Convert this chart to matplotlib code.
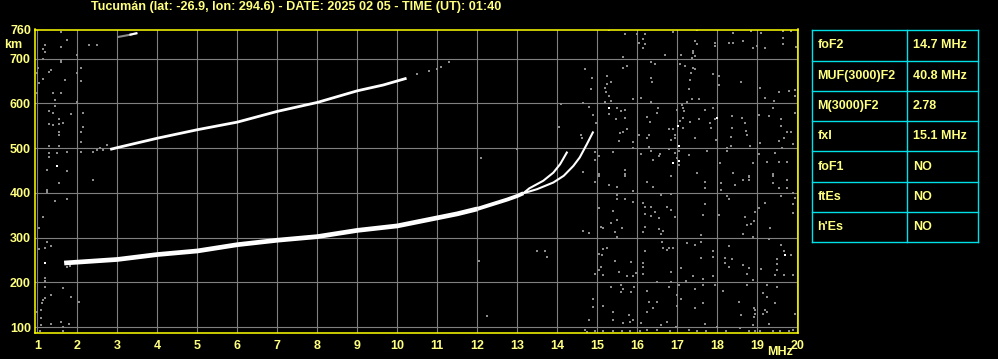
import matplotlib
matplotlib.use("Agg")
import matplotlib.pyplot as plt

# ---------------- data ----------------
title = "Tucumán (lat: -26.9, lon: 294.6) - DATE: 2025 02 05 - TIME (UT): 01:40"

freq_ticks = list(range(1, 21))
height_ticks = [100, 200, 300, 400, 500, 600, 700]

# F2 trace (1st hop), common part
f1_freq = [1.67, 2.0, 3.0, 4.0, 5.0, 6.0, 7.0, 8.0, 9.0, 10.0, 11.0, 11.5, 12.0]
f1_height = [243, 245, 251, 262, 270, 284, 294, 302, 316, 326, 344, 353, 364]
f1b_freq = [12.0, 12.25, 12.5, 12.75, 13.0, 13.15]
f1b_height = [364, 371, 378, 385, 393, 399]
# split branches
oA_freq = [13.15, 13.3, 13.65, 13.9, 14.07, 14.25]
oA_height = [399, 410, 427, 445, 464, 492]
xB_freq = [13.15, 13.49, 13.9, 14.16, 14.4, 14.56, 14.74, 14.9]
xB_height = [399, 408, 423, 438, 460, 479, 509, 537]

# 2nd hop trace
f2_freq = [2.82, 3.0, 4.0, 5.0, 6.0, 7.0, 8.0, 9.0, 9.65, 10.23]
f2_height = [497, 501, 522, 541, 558, 582, 602, 628, 641, 656]
f2_gray_freq = [2.40, 2.48, 2.57, 2.65, 2.73, 10.5, 10.8, 10.99, 11.1, 11.3]
f2_gray_height = [492, 496, 500, 496, 507, 665, 672, 677, 681, 692]

# 3rd hop fragment
f3_freq = [3.0, 3.3, 3.5]
f3_height = [748, 753, 757]

# noise echoes (gray)
noise_freq = [
    15.29, 15.70, 16.00, 16.18, 16.15, 16.03, 16.18, 16.14, 16.89, 17.49, 17.45, 17.49, 17.95, 17.95,
    18.39, 18.30, 18.40, 18.64, 18.84, 18.89, 19.00, 19.09, 19.20, 19.64, 19.64, 19.64, 19.84, 19.97,
    17.40, 17.40, 17.45, 17.36, 17.09, 16.70, 15.64, 16.34, 16.45, 15.64, 15.74, 17.07, 17.20, 17.40,
    17.45, 17.35, 17.32, 17.28, 17.36, 17.55, 17.24, 17.11, 17.15, 16.99, 17.17, 14.70, 14.86, 14.85,
    15.24, 15.35, 15.24, 15.18, 15.22, 15.30, 15.35, 15.20, 14.65, 14.80, 15.60, 15.70, 15.49, 15.30,
    15.47, 15.70, 15.90, 16.09, 16.34, 16.36, 16.35, 16.24, 16.32, 16.51, 16.50, 17.70, 17.89, 18.03,
    17.89, 18.03, 18.59, 19.07, 19.20, 19.42, 19.55, 19.78, 19.95, 19.95, 19.95, 19.40, 19.28, 19.05,
    19.60, 19.60, 19.74, 19.84, 19.67, 19.53, 19.61, 19.07, 19.03, 19.43, 19.25, 19.53, 19.74, 19.90,
    18.36, 18.36, 18.35, 18.34, 18.24, 18.61, 18.70, 18.72, 18.74, 18.82, 18.90, 18.24, 18.38, 18.78,
    19.39, 17.82, 17.84, 17.95, 17.97, 18.07, 17.74, 17.55, 17.32, 17.45, 17.30, 17.49, 17.15, 17.07,
    17.15, 16.90, 16.95, 16.93, 16.84, 17.05, 16.95, 16.99, 17.05, 16.80, 16.78, 16.57, 16.53, 16.40,
    16.34, 16.28, 16.10, 16.28, 16.24, 16.03, 15.90, 15.88, 15.74, 15.64, 15.57, 15.55, 15.39, 15.03,
    14.95, 14.95, 14.97, 14.90, 14.65, 15.03, 15.70, 15.70,
    14.95, 15.03, 15.30, 15.49, 15.70, 15.89, 16.24, 16.39, 16.84, 17.70, 17.70, 18.10, 18.10, 18.45,
    18.64, 18.80, 18.78, 19.40, 19.40, 19.55, 19.74, 19.74, 15.49, 15.49, 15.70, 15.89, 15.39, 15.49,
    15.35, 15.61, 15.45, 15.49, 15.10, 15.14, 14.64, 14.78, 15.03, 16.14, 16.20, 16.35, 16.20, 16.34,
    16.45, 16.55, 16.60, 16.75, 16.84, 16.95, 16.85, 16.20, 16.14, 16.53, 16.64, 16.60, 17.70, 17.64,
    17.59, 18.03, 18.24, 18.30, 18.68, 18.74, 18.84, 18.92, 18.95, 18.64, 18.89, 19.03, 19.20, 19.32,
    19.59, 19.90, 19.95, 19.89, 19.90, 16.61, 16.64, 16.75, 16.80, 16.90, 16.20, 16.15, 16.14, 16.14,
    15.85, 15.55, 15.74, 15.90, 15.97, 15.24, 15.14, 15.11, 15.03, 15.45, 15.10, 15.03, 15.14, 14.95,
    16.85, 17.10, 17.24, 17.45, 17.60, 17.60, 17.89, 17.90, 17.89, 17.64, 17.39, 18.20, 18.20, 18.36,
    18.30, 18.30, 18.65, 18.74, 18.75, 18.90, 18.80, 19.10, 19.30, 19.60, 19.67, 19.49, 19.49, 19.49,
    19.84, 19.45, 19.67, 19.90, 19.49, 19.24, 19.14, 19.24, 19.45, 19.18, 19.24, 19.14, 18.93, 18.92,
    18.90, 19.30, 19.95, 16.49, 16.85, 17.03, 17.22, 17.45, 17.64, 17.95, 18.14, 15.35, 15.59, 15.64,
    15.59, 15.85, 15.92, 16.24, 16.80, 14.88, 14.90, 15.14, 15.39, 15.40, 15.65, 15.80, 15.82, 15.90,
    16.09, 16.30, 16.50, 16.39, 16.25, 16.99, 17.09, 17.00, 16.75, 16.60, 16.97, 17.70, 17.64, 17.45,
    18.55, 18.59, 18.92, 18.95, 14.79, 14.70, 14.74, 14.95, 15.14, 15.39, 15.61, 15.82, 16.07, 16.24,
    16.49, 16.82, 17.28, 17.49, 17.72, 18.00, 18.22, 18.57, 18.78, 18.95, 19.07, 19.40, 19.57, 19.78,
    19.90,
    1.58, 1.73, 1.18, 1.13, 1.19, 1.58, 1.13, 1.59, 1.58, 1.98, 2.28, 2.48, 1.01, 1.33, 1.28, 2.08,
    2.09, 1.98, 1.69, 1.13, 1.03, 1.38, 1.59, 1.44, 1.44, 2.00, 1.84, 1.29, 1.38, 2.13, 2.13, 1.29,
    1.40, 1.55, 1.65, 1.55, 1.55, 1.55, 2.09, 2.09, 1.74, 1.30, 1.55, 1.29, 1.29, 1.48, 2.08, 1.23,
    1.75, 1.55, 1.23, 1.23, 2.38, 1.73, 1.43, 1.15, 1.04, 1.23, 1.33, 1.19, 1.03, 1.19, 1.19, 1.19,
    1.65, 1.34, 1.19, 1.13, 1.11, 1.08, 0.98, 1.08, 1.34, 1.58, 1.78, 1.08, 1.63, 1.63, 1.07, 1.84,
    2.03, 0.98, 0.98, 1.69, 1.73, 1.82,
    12.24, 12.08, 12.05, 13.49, 13.70, 13.73, 12.98, 14.03, 14.08, 14.64, 14.80, 14.60, 14.62,
]
noise_height = [
    763, 754, 754, 754, 743, 735, 732, 723, 759, 763, 739, 733, 735, 728,
    758, 735, 735, 739, 762, 724, 728, 758, 723, 762, 747, 732, 762, 726,
    718, 713, 706, 702, 709, 709, 704, 693, 688, 680, 683, 688, 683, 680,
    676, 667, 653, 631, 609, 609, 603, 596, 590, 586, 583, 676, 657, 631,
    661, 648, 644, 635, 626, 616, 605, 603, 601, 592, 583, 586, 590, 577,
    564, 568, 609, 612, 657, 648, 603, 569, 559, 590, 579, 586, 590, 661,
    665, 641, 648, 635, 612, 606, 626, 627, 629, 616, 579, 590, 571, 574,
    564, 549, 536, 536, 523, 515, 500, 512, 487, 489, 469, 469, 469, 510,
    571, 545, 524, 504, 500, 568, 556, 538, 530, 504, 467, 493, 445, 437,
    441, 556, 545, 564, 517, 467, 493, 564, 559, 523, 484, 445, 568, 560,
    545, 542, 529, 523, 519, 493, 489, 478, 462, 497, 542, 486, 482, 474,
    493, 502, 487, 530, 523, 529, 514, 500, 542, 536, 534, 515, 492, 483,
    474, 492, 556, 575, 447, 441, 452, 441,
    424, 438, 418, 412, 438, 404, 424, 414, 438, 424, 410, 421, 406, 418,
    429, 429, 436, 438, 421, 410, 429, 410, 395, 386, 386, 379, 359, 339,
    332, 322, 313, 302, 324, 321, 315, 310, 365, 377, 369, 369, 352, 349,
    356, 343, 395, 369, 362, 345, 397, 324, 313, 319, 315, 307, 374, 351,
    306, 351, 392, 386, 347, 327, 330, 336, 356, 308, 302, 365, 377, 321,
    392, 399, 388, 374, 354, 291, 277, 272, 277, 276, 270, 242, 235, 219,
    246, 222, 213, 213, 220, 276, 274, 261, 263, 248, 235, 227, 216, 218,
    222, 233, 287, 283, 291, 255, 270, 257, 215, 207, 213, 254, 244, 252,
    235, 280, 239, 218, 194, 205, 231, 230, 297, 283, 270, 253, 240, 228,
    261, 216, 216, 216, 190, 194, 175, 168, 153, 138, 134, 128, 138, 123,
    104, 106, 128, 201, 200, 194, 203, 185, 195, 194, 180, 190, 194, 186,
    178, 178, 190, 180, 190, 163, 144, 148, 134, 116, 108, 127, 112, 116,
    110, 157, 157, 143, 134, 172, 163, 148, 112, 104, 101, 106, 153, 142,
    157, 127, 143, 128, 116, 93, 88, 91, 90, 91, 90, 91, 90, 93,
    93, 90, 93, 91, 90, 101, 91, 97, 90, 90, 90, 90, 91, 91,
    93,
    759, 741, 731, 721, 714, 727, 699, 696, 692, 709, 731, 731, 679, 675, 670, 679,
    651, 668, 653, 654, 645, 623, 623, 608, 593, 602, 577, 582, 578, 578, 548, 554,
    552, 554, 556, 565, 537, 530, 535, 513, 492, 505, 505, 490, 480, 489, 492, 451,
    448, 422, 407, 401, 429, 387, 381, 347, 321, 289, 280, 276, 275, 209, 202, 190,
    187, 172, 164, 161, 153, 138, 134, 120, 107, 112, 107, 105, 101, 90, 90, 167,
    157, 668, 624, 246, 235, 237,
    125, 477, 248, 271, 271, 257, 498, 547, 599, 314, 310, 530, 522,
]

# isolated strong (white) echoes
white_freq = [15.28, 17.99, 17.01, 17.05, 17.05, 16.90, 19.70, 1.50, 1.18]
white_height = [590, 568, 549, 504, 471, 467, 261, 460, 243]

# parameter table
param_names = ["foF2", "MUF(3000)F2", "M(3000)F2", "fxI", "foF1", "ftEs", "h'Es"]
param_values = ["14.7 MHz", "40.8 MHz", "2.78", "15.1 MHz", "NO", "NO", "NO"]

# ---------------- style ----------------
W, H = 998, 359
TXT = "#FFFF80"
FRAME = "#FFFF00"
GRID = "#808080"
NOISE = "#8c8c8c"
CYAN = "#00E0E8"
FONT = "Liberation Sans"
FS = 9.0

plt.rcParams["font.family"] = [FONT, "DejaVu Sans"]

fig = plt.figure(figsize=(W / 100, H / 100), dpi=100, facecolor="black")

L, R, T, B = 35.0, 797.7, 29.5, 333.0
ax = fig.add_axes([L / W, 1 - B / H, (R - L) / W, (B - T) / H])
ax.set_facecolor("black")
ax.set_xlim(0.94, 20.01)
ax.set_ylim(86.6, 765)
ax.set_xticks(freq_ticks)
ax.set_yticks(height_ticks)
ax.grid(True, color=GRID, lw=0.8, zorder=0)
ax.set_axisbelow(True)
ax.tick_params(length=0, colors=TXT, labelsize=FS)
ax.tick_params(axis="x", pad=5)
ax.tick_params(axis="y", pad=3)
for lab in ax.get_xticklabels() + ax.get_yticklabels():
    lab.set_fontweight("bold")
    lab.set_color(TXT)
for s in ax.spines.values():
    s.set_color(FRAME)
    s.set_linewidth(1.1)

# noise
ax.plot(noise_freq, noise_height, ls="none", marker="s", ms=1.6, mew=0,
        color=NOISE, zorder=2, antialiased=False)
ax.plot(f2_gray_freq, f2_gray_height, ls="none", marker="s", ms=1.6, mew=0,
        color=NOISE, zorder=2, antialiased=False)
ax.plot(f3_freq, f3_height, color=NOISE, lw=1.5, zorder=3, solid_capstyle="butt")
ax.plot(f3_freq[1:], f3_height[1:], color="white", lw=1.5, zorder=3, solid_capstyle="butt")
ax.plot(white_freq, white_height, ls="none", marker="s", ms=1.6, mew=0,
        color="white", zorder=3, antialiased=False)

# traces
ax.plot(f1_freq, f1_height, color="white", lw=3.4, solid_capstyle="butt",
        solid_joinstyle="round", zorder=4)
ax.plot(f1b_freq, f1b_height, color="white", lw=2.8, solid_capstyle="butt",
        solid_joinstyle="round", zorder=4)
ax.plot(oA_freq, oA_height, color="white", lw=1.5, solid_capstyle="butt", zorder=4)
ax.plot(xB_freq, xB_height, color="white", lw=1.5, solid_capstyle="butt", zorder=4)
ax.plot(f2_freq, f2_height, color="white", lw=2.0, solid_capstyle="butt", zorder=4)

# extra axis texts
fig.text(31 / W, 1 - 31 / H, "760", ha="right", va="center", color=TXT,
         fontsize=FS, fontweight="bold")
fig.text(13.5 / W, 1 - 45 / H, "km", ha="center", va="center", color=TXT,
         fontsize=FS, fontweight="bold")
fig.text(780 / W, 1 - 352 / H, "MHz", ha="center", va="center", color=TXT,
         fontsize=FS, fontweight="bold")

# title
fig.text(91 / W, 1 - 7 / H, title, ha="left", va="center", color=TXT,
         fontsize=9.1, fontweight="bold")

# parameter table
tx0, tx1, ty0, ty1 = 812.0, 977.7, 30.3, 242.3
tab = fig.add_axes([tx0 / W, 1 - ty1 / H, (tx1 - tx0) / W, (ty1 - ty0) / H])
tab.set_xlim(tx0, tx1)
tab.set_ylim(ty1, ty0)
tab.axis("off")
nrow = len(param_names)
rh = (ty1 - ty0) / nrow
for i in range(nrow + 1):
    tab.plot([tx0, tx1], [ty0 + i * rh] * 2, color=CYAN, lw=1.0, clip_on=False)
for xv in (tx0, 907.0, tx1):
    tab.plot([xv, xv], [ty0, ty1], color=CYAN, lw=1.0, clip_on=False)
for i, (n, v) in enumerate(zip(param_names, param_values)):
    yc = ty0 + (i + 0.5) * rh
    tab.text(817.5, yc, n, ha="left", va="center", color=TXT, fontsize=FS,
             fontweight="bold")
    tab.text(913.0, yc, v, ha="left", va="center", color=TXT, fontsize=FS,
             fontweight="bold")

fig.savefig("out.png", dpi=100, facecolor="black")
